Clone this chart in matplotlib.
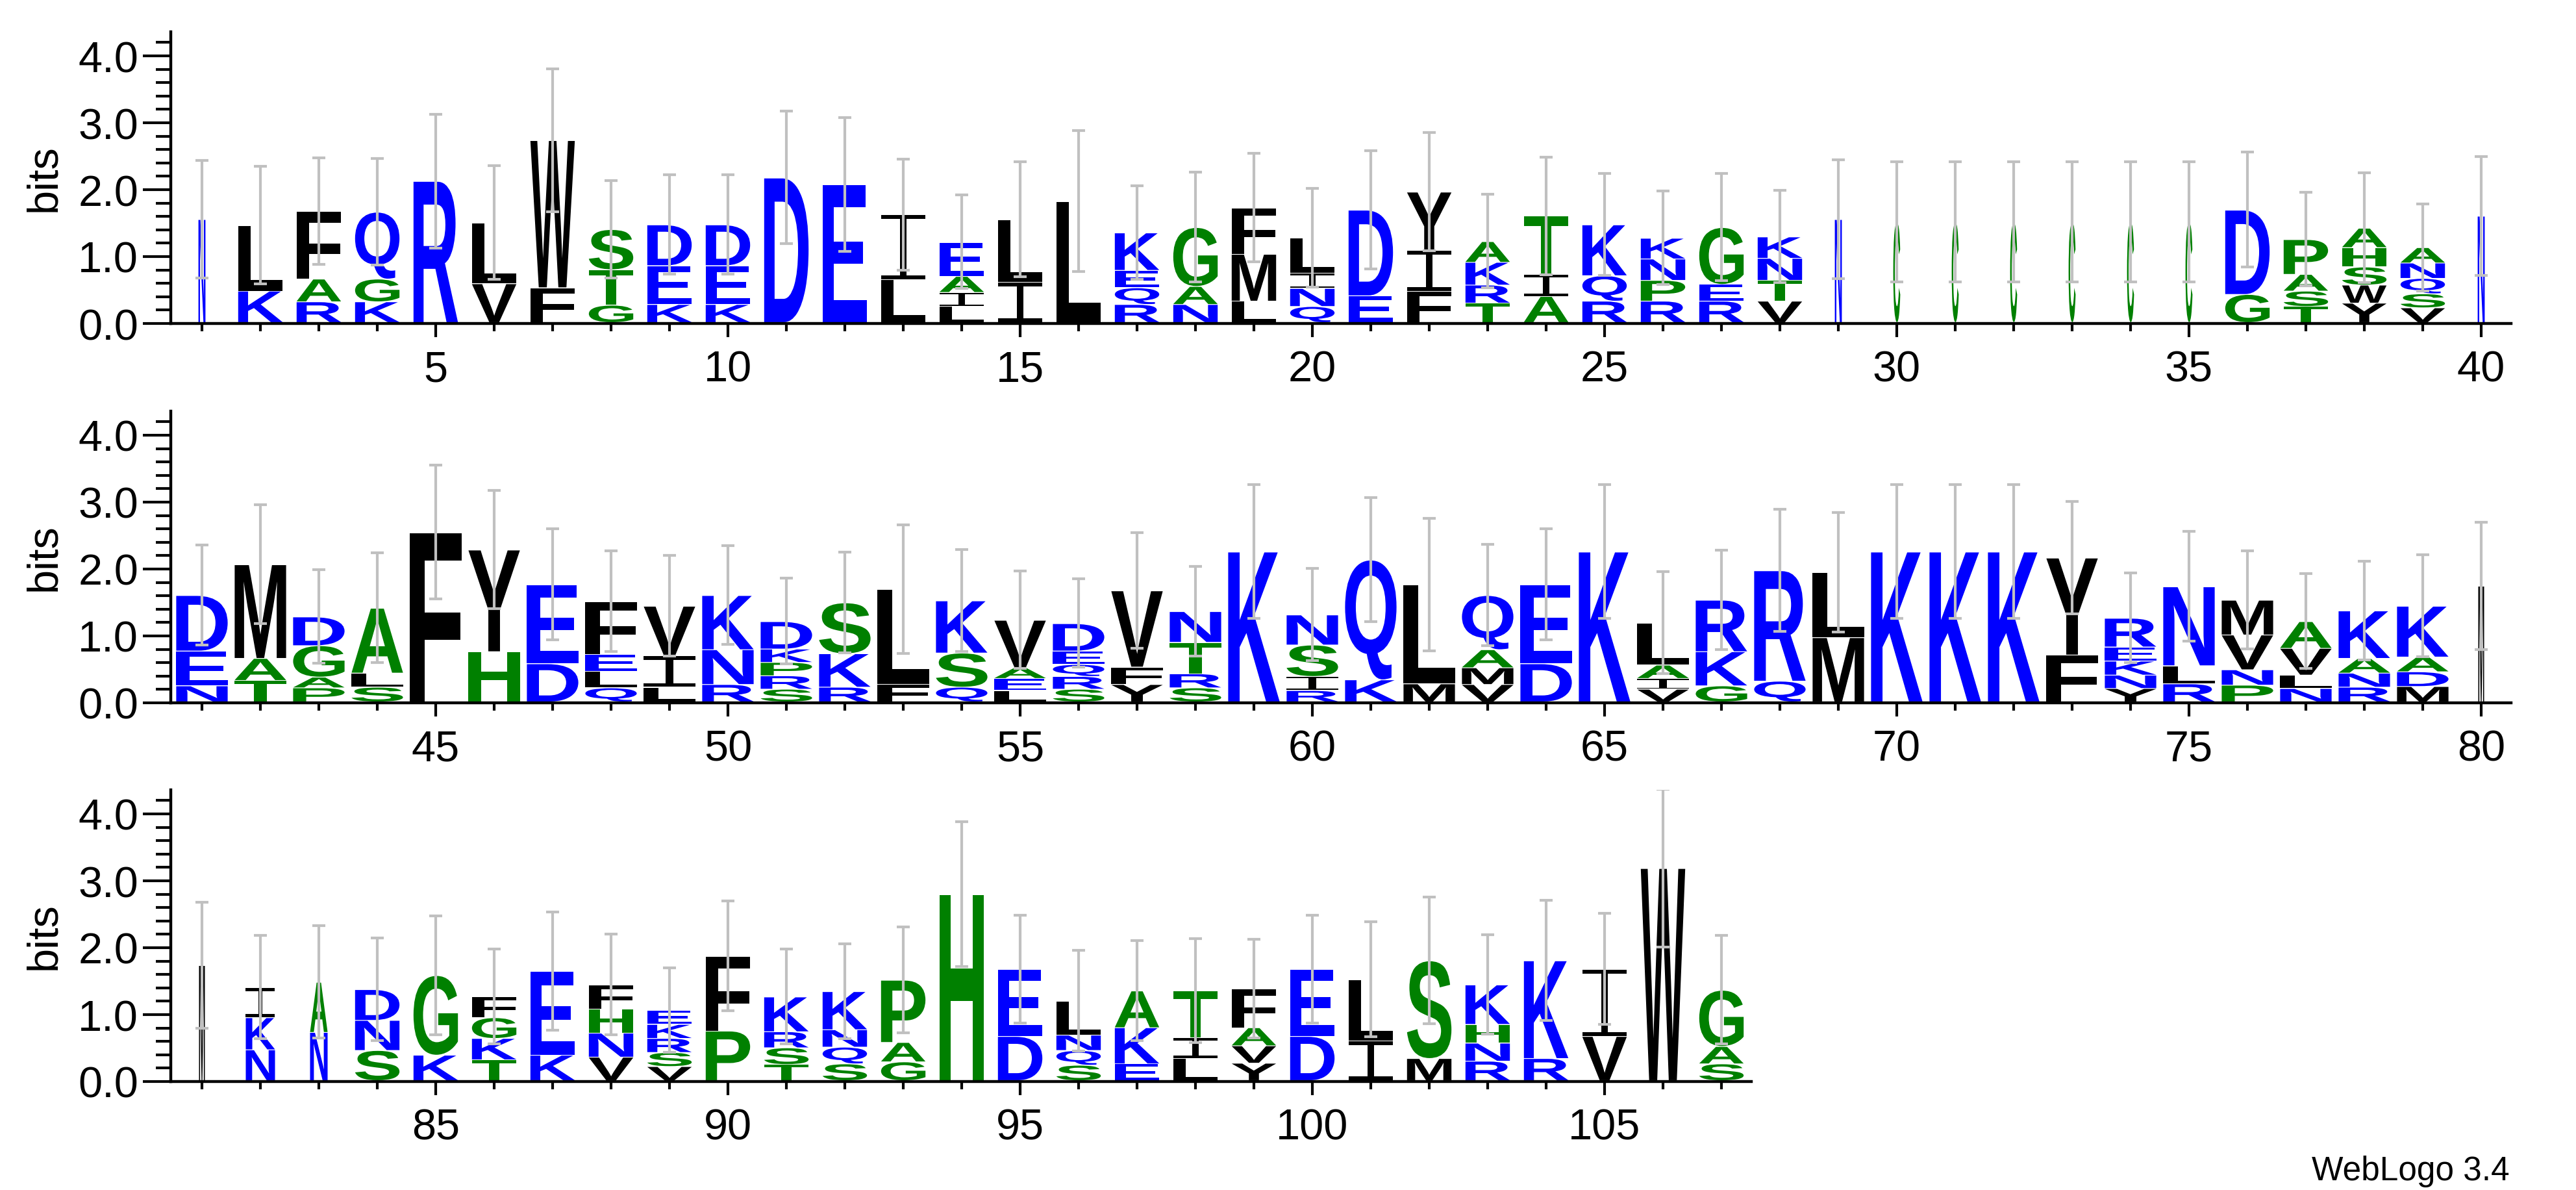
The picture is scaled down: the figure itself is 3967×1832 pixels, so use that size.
import matplotlib
matplotlib.use("Agg")
import matplotlib.pyplot as plt
from matplotlib.textpath import TextPath
from matplotlib.patches import PathPatch, Rectangle
from matplotlib.font_manager import FontProperties
from matplotlib.transforms import Affine2D
from matplotlib.ticker import MultipleLocator, FixedLocator

# ---------------- data (letters listed bottom -> top) ----------------
row1_pos = list(range(1, 41))
row1_letters = ["N", "KL", "RAF", "KGQ", "R", "VL", "FW", "GTS", "KED", "KED",
                "D", "E", "LI", "LIAE", "IL", "L", "RQEK", "NAG", "LMF", "QNIL",
                "ED", "FIY", "TRKA", "AIT", "RQK", "RPNK", "REG", "VTNK", "N", "C",
                "C", "C", "C", "C", "C", "GD", "TSAP", "YWSHA", "VSQNA", "N"]
row1_heights = [[1.54], [.47, .98], [.31, .34, 1.01], [.31, .34, 1.0], [2.11], [.58, .91],
                [.52, 2.20], [.26, .53, .60], [.27, .58, .61], [.27, .58, .61],
                [2.16], [2.06], [.64, .97], [.24, .21, .24, .51], [.60, .94], [1.81],
                [.27, .25, .26, .56], [.27, .27, .88], [.32, .70, .69], [.24, .27, .23, .52],
                [.40, 1.28], [.47, .61, .87], [.29, .27, .34, .31], [.39, .33, .87],
                [.32, .38, .76], [.32, .31, .32, .31], [.32, .25, .85], [.32, .31, .33, .32],
                [1.54], [1.50], [1.50], [1.50], [1.50], [1.50], [1.50], [.42, 1.26],
                [.24, .23, .25, .52], [.29, .27, .27, .29, .29], [.22, .21, .23, .23, .23], [1.59]]
row1_err = [.88, .88, .80, .80, 1.0, .85, 1.07, .73, .74, .74,
            .99, 1.0, .83, .70, .86, 1.05, .70, .82, .81, .74,
            .88, .88, .70, .88, .76, .70, .80, .69, .89, .90,
            .90, .90, .90, .90, .90, .86, .70, .82, .65, .89]
row1_width = [.12] + [.76] * 27 + [.12] * 7 + [.76] * 4 + [.12]

row2_pos = list(range(41, 81))
row2_letters = ["NED", "TAM", "PAGD", "SLA", "F", "HY", "DE", "QLEF", "LIV", "RNK",
                "SRPKD", "RKS", "FL", "QSK", "LEAV", "SRQED", "YFV", "SRTN", "K", "RISN",
                "KQ", "ML", "VMAQ", "DE", "K", "VIAL", "GKR", "QR", "ML", "K",
                "K", "K", "FY", "YNKER", "RLN", "PNVM", "NLVA", "RNAK", "MDAK", "M"]
row2_heights = [[.24, .52, .83], [.32, .33, 1.40], [.21, .16, .47, .43], [.22, .21, .97], [2.53],
                [.75, 1.52], [.57, 1.18], [.21, .25, .25, .79], [.22, .47, .74], [.26, .52, .81],
                [.19, .20, .20, .20, .41], [.22, .50, .76], [.26, 1.42], [.22, .51, .78],
                [.17, .18, .16, .71], [.19, .19, .18, .20, .41], [.26, .26, 1.14],
                [.21, .21, .47, .46], [2.24], [.17, .21, .47, .45], [.33, 1.79], [.27, 1.48],
                [.26, .25, .27, .81], [.57, 1.18], [2.24], [.19, .16, .20, .63], [.24, .51, .77],
                [.31, 1.65], [.96, .97], [2.24], [2.24], [2.24], [.70, 1.45],
                [.20, .20, .21, .21, .43], [.27, .27, 1.18], [.25, .23, .52, .52],
                [.20, .20, .40, .40], [.22, .21, .22, .71], [.23, .22, .22, .76], [1.73]]
row2_err = [.75, .89, .70, .82, 1.0, .88, .83, .75, .75, .74,
            .64, .75, .96, .76, .73, .66, .86, .67, 1.0, .69,
            .93, .99, .76, .83, 1.0, .76, .74, .91, .89, 1.0,
            1.0, 1.0, .84, .67, .82, .73, .71, .74, .76, .95]
row2_width = [.88] * 39 + [.10]

row3_pos = list(range(81, 108))
row3_letters = ["M", "NKI", "NA", "SND", "KG", "TKGF", "KE", "VNHF", "VSRKE", "PF",
                "TSRK", "SQNK", "GAP", "H", "DE", "SQNL", "EKA", "LIT", "YVAF", "DE",
                "IL", "MS", "RNHK", "RK", "VI", "W", "SAG"]
row3_heights = [[1.72], [.46, .48, .45], [.72, .75], [.45, .45, .46], [.38, 1.19],
                [.31, .32, .31, .31], [.38, 1.25], [.35, .36, .36, .36],
                [.21, .21, .21, .21, .21], [.74, 1.12], [.24, .25, .24, .52],
                [.25, .25, .26, .57], [.28, .29, .93], [2.78], [.66, 1.0],
                [.23, .22, .23, .51], [.25, .54, .55], [.33, .31, .70], [.26, .26, .27, .58],
                [.66, 1.0], [.59, .92], [.33, 1.46], [.29, .27, .28, .59], [.33, 1.46],
                [.66, 1.0], [3.17], [.25, .26, .84]]
row3_err = [.94, .77, .84, .77, .89, .71, .88, .75, .63, .82,
            .71, .71, .79, 1.08, .81, .75, .75, .78, .74, .81,
            .86, .95, .74, .90, .83, 1.18, .81]
row3_width = [.10, .50, .30] + [.76] * 24

COLORS = {}
for c in "DEKRNQ":
    COLORS[c] = "#0000ff"
for c in "GSTAPHC":
    COLORS[c] = "#008000"
for c in "LIVFWMY":
    COLORS[c] = "#000000"

# ---------------- figure ----------------
W, H = 3967, 1833
DPI = 100
fig = plt.figure(figsize=(W / DPI, H / DPI), dpi=DPI)
fp = FontProperties(family="Liberation Sans", weight="bold")
tick_font = "Liberation Sans"

PX_PER_BIT = 103.0
YTOP = 4.36
LEFT_PX = 263
COL1_PX = 311
COL_PX = 90.0

rows = [
    (row1_pos, row1_letters, row1_heights, row1_err, row1_width, 499, range(5, 41, 5)),
    (row2_pos, row2_letters, row2_heights, row2_err, row2_width, 1083, range(45, 81, 5)),
    (row3_pos, row3_letters, row3_heights, row3_err, row3_width, 1666, range(85, 106, 5)),
]


def draw_letter(ax, ch, xc, y0, w, h, color):
    hh = max(h - 0.012, 0.005)
    if ch == "I":
        bar = min(0.12 * hh, 0.055)
        stem = 0.14 * w
        for r in (Rectangle((xc - w / 2, y0), w, bar),
                  Rectangle((xc - w / 2, y0 + hh - bar), w, bar),
                  Rectangle((xc - stem / 2, y0), stem, hh)):
            r.set_facecolor(color)
            r.set_edgecolor("none")
            r.set_zorder(2)
            ax.add_patch(r)
        return
    tp = TextPath((0, 0), ch, size=1, prop=fp)
    bb = tp.get_extents()
    tr = Affine2D().translate(-bb.x0, -bb.y0).scale(w / bb.width, hh / bb.height).translate(xc - w / 2, y0)
    ax.add_patch(PathPatch(tr.transform_path(tp), fc=color, ec="none", lw=0, zorder=2))


for pos, letters, heights, errs, widths, base_px, majors in rows:
    first = pos[0]
    x_lo = first - (COL1_PX - LEFT_PX) / COL_PX
    x_hi = pos[-1] + 46 / COL_PX
    ax_w_px = (x_hi - x_lo) * COL_PX
    ax_h_px = YTOP * PX_PER_BIT
    ax = fig.add_axes([LEFT_PX / W, 1 - base_px / H, ax_w_px / W, ax_h_px / H])
    ax.set_xlim(x_lo, x_hi)
    ax.set_ylim(0, YTOP)
    tops = []
    for p, lets, hs, wd in zip(pos, letters, heights, widths):
        y = 0.02
        for ch, hgt in zip(lets, hs):
            draw_letter(ax, ch, p, y, wd, hgt, COLORS[ch])
            y += hgt
        tops.append(y)
    ax.errorbar(pos, tops, yerr=errs, fmt="none", ecolor="#c0c0c0",
                elinewidth=3, capsize=7, capthick=3, zorder=3)
    for s in ["top", "right"]:
        ax.spines[s].set_visible(False)
    for s in ["left", "bottom"]:
        ax.spines[s].set_linewidth(3.2)
    ax.yaxis.set_major_locator(MultipleLocator(1.0))
    ax.yaxis.set_minor_locator(MultipleLocator(0.2))
    ax.set_yticks([0, 1, 2, 3, 4])
    ax.set_yticklabels(["0.0", "1.0", "2.0", "3.0", "4.0"], fontsize=48, family=tick_font)
    ax.xaxis.set_major_locator(FixedLocator(list(majors)))
    ax.xaxis.set_minor_locator(FixedLocator(pos))
    ax.set_xticklabels([str(m) for m in majors], fontsize=48, family=tick_font)
    ax.tick_params(axis="y", which="major", length=31, width=3, pad=5)
    ax.tick_params(axis="y", which="minor", length=16.5, width=3)
    ax.tick_params(axis="x", which="major", length=15, width=3, pad=14)
    ax.tick_params(axis="x", which="minor", length=8.6, width=3)
    ax.patch.set_alpha(0)
    fig.text(68 / W, 1 - (base_px - 2.18 * PX_PER_BIT) / H, "bits", rotation=90,
             ha="center", va="center", fontsize=48, family=tick_font)

fig.text(3865 / W, 1 - 1817 / H, "WebLogo 3.4", ha="right", va="baseline",
         fontsize=37, family=tick_font)

fig.savefig("out.png", dpi=DPI)
